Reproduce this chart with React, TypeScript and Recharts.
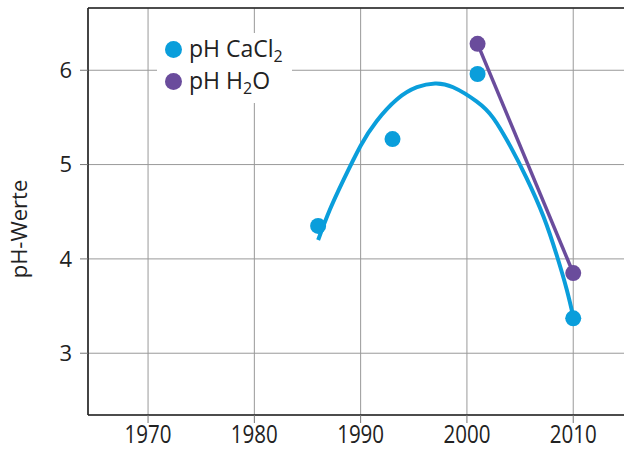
import React from "react";
import {
  CartesianGrid,
  ComposedChart,
  Line,
  ReferenceLine,
  Scatter,
  XAxis,
  YAxis,
} from "recharts";

const yearTicks = [1970, 1980, 1990, 2000, 2010];
const phTicks = [3, 4, 5, 6];

// measured values
const cacl2Years = [1986, 1993, 2001, 2010];
const cacl2Values = [4.35, 5.27, 5.96, 3.37];

const h2oYears = [2001, 2010];
const h2oValues = [6.28, 3.85];

// fitted trend curve for CaCl2
const trendYears = [
  1986, 1987.1, 1988.4, 1990, 1991.5, 1993.4, 1995.3, 1997, 1998.7, 2000.9,
  2002.5, 2004.1, 2005.6, 2007.2, 2008.5, 2009.4, 2010,
];
const trendValues = [
  4.2, 4.52, 4.84, 5.2, 5.46, 5.69, 5.82, 5.86, 5.82, 5.67,
  5.49, 5.19, 4.86, 4.45, 4.02, 3.67, 3.39,
];

const BLUE = "#0a9edb";
const PURPLE = "#6a4c9c";
const FONT = "'Open Sans', sans-serif";

const cacl2Data = cacl2Years.map((x, i) => ({ x, y: cacl2Values[i] }));
const h2oData = h2oYears.map((x, i) => ({ x, y: h2oValues[i] }));
const trendData = trendYears.map((x, i) => ({ x, y: trendValues[i] }));

const Y_MIN = 2.345;
const Y_MAX = 6.66;

function YearTick({ x, y, payload }: any) {
  return (
    <text
      x={x}
      y={y + 18}
      textAnchor="middle"
      fontFamily={FONT}
      fontSize={25}
      fill="#222"
      textLength={47}
      lengthAdjust="spacingAndGlyphs"
    >
      {payload.value}
    </text>
  );
}

function Dot({ cx, cy, fill }: any) {
  return <circle cx={cx} cy={cy} r={8} fill={fill} />;
}

export default function App() {
  return (
    <div
      style={{
        position: "fixed",
        left: 0,
        top: 0,
        width: 624,
        height: 451,
        overflow: "hidden",
        background: "#fff",
      }}
    >
      <ComposedChart
        width={640}
        height={451}
        margin={{ top: 8, right: 3, bottom: 0, left: 0 }}
      >
        <CartesianGrid stroke="#999" strokeWidth={1} />
        <XAxis
          dataKey="x"
          type="number"
          domain={[1964.35, 2016]}
          ticks={yearTicks}
          allowDataOverflow
          height={36}
          tickSize={8}
          tick={<YearTick />}
          axisLine={{ stroke: "#222", strokeWidth: 1.6 }}
          tickLine={{ stroke: "#777", strokeWidth: 1 }}
        />
        <YAxis
          dataKey="y"
          type="number"
          domain={[Y_MIN, Y_MAX]}
          ticks={phTicks}
          allowDataOverflow
          width={88}
          tickSize={8}
          tickMargin={8}
          tick={{ fill: "#222", fontSize: 22, fontFamily: FONT }}
          axisLine={{ stroke: "#222", strokeWidth: 1.6 }}
          tickLine={{ stroke: "#777", strokeWidth: 1 }}
          label={{
            content: () => (
              <text
                transform="translate(27,229) rotate(-90)"
                textAnchor="middle"
                fontFamily={FONT}
                fontSize={22}
                fill="#222"
              >
                pH-Werte
              </text>
            ),
          }}
        />
        <ReferenceLine y={Y_MAX} stroke="#222" strokeWidth={1.6} ifOverflow="visible" />
        <Line
          data={trendData}
          dataKey="y"
          type="natural"
          stroke={BLUE}
          strokeWidth={4}
          dot={false}
          activeDot={false}
          isAnimationActive={false}
        />
        <Line
          data={h2oData}
          dataKey="y"
          type="linear"
          stroke={PURPLE}
          strokeWidth={3.5}
          dot={false}
          activeDot={false}
          isAnimationActive={false}
        />
        <Scatter
          data={cacl2Data}
          dataKey="y"
          fill={BLUE}
          shape={<Dot fill={BLUE} />}
          isAnimationActive={false}
        />
        <Scatter
          data={h2oData}
          dataKey="y"
          fill={PURPLE}
          shape={<Dot fill={PURPLE} />}
          isAnimationActive={false}
        />
      </ComposedChart>
      <div
        style={{
          position: "absolute",
          left: 157,
          top: 33,
          width: 135,
          height: 70,
          background: "#fff",
          fontFamily: FONT,
          fontSize: 23,
          color: "#222",
          lineHeight: "32px",
        }}
      >
        {[
          { color: BLUE, label: "pH CaCl", sub: "2", tail: "" },
          { color: PURPLE, label: "pH H", sub: "2", tail: "O" },
        ].map((item, i) => (
          <div
            key={i}
            style={{ display: "flex", alignItems: "center", height: 32, whiteSpace: "nowrap" }}
          >
            <span
              style={{
                display: "inline-block",
                width: 17,
                height: 17,
                borderRadius: "50%",
                background: item.color,
                marginLeft: 8,
                marginRight: 7,
              }}
            />
            <span>
              {item.label}
              <span style={{ fontSize: 16, position: "relative", top: 5 }}>{item.sub}</span>
              {item.tail}
            </span>
          </div>
        ))}
      </div>
    </div>
  );
}
